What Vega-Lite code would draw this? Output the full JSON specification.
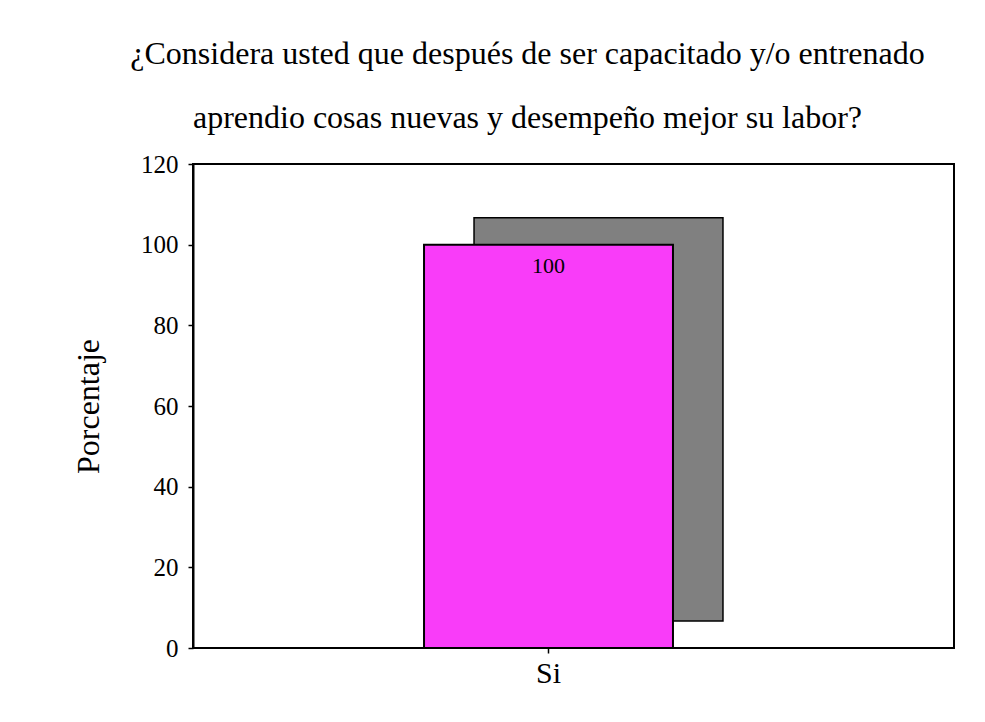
{
  "$schema": "https://vega.github.io/schema/vega-lite/v6.json",
  "width": 761,
  "height": 484,
  "padding": {"left": 72, "top": 38, "right": 30, "bottom": 5},
  "background": "white",
  "title": {
    "text": [
      "¿Considera usted que después de ser capacitado y/o entrenado",
      "aprendio cosas nuevas y desempeño mejor su labor?"
    ],
    "font": "Liberation Serif",
    "fontSize": 32,
    "fontWeight": "normal",
    "lineHeight": 64,
    "anchor": "middle",
    "dx": -46,
    "offset": 17,
    "color": "black"
  },
  "config": {
    "title": {"font": "Liberation Serif", "fontWeight": "normal"},
    "view": {"stroke": "black", "strokeWidth": 2},
    "axis": {
      "domainColor": "black",
      "domainWidth": 2,
      "tickColor": "black",
      "tickWidth": 1.5,
      "tickSize": 5,
      "labelColor": "black",
      "titleColor": "black",
      "labelFont": "Liberation Serif",
      "titleFont": "Liberation Serif",
      "titleFontWeight": "normal",
      "grid": false
    }
  },
  "data": {
    "values": [
      {"respuesta": "Si", "porcentaje": 100}
    ]
  },
  "encoding": {
    "x": {
      "field": "respuesta",
      "type": "nominal",
      "scale": {"range": [0, 711], "paddingInner": 0, "paddingOuter": 0.928},
      "axis": {"title": null, "domain": false, "labelAngle": 0, "labelFontSize": 30, "labelPadding": 5}
    },
    "y": {
      "field": "porcentaje",
      "type": "quantitative",
      "scale": {"domain": [0, 120], "nice": false},
      "axis": {
        "title": "Porcentaje",
        "values": [0, 20, 40, 60, 80, 100, 120],
        "labelFontSize": 25,
        "labelPadding": 10,
        "titleFontSize": 32,
        "titlePadding": 35
      }
    }
  },
  "layer": [
    {
      "mark": {
        "type": "bar",
        "color": "#808080",
        "stroke": "black",
        "strokeWidth": 1.5,
        "xOffset": 50,
        "x2Offset": 50,
        "yOffset": -27,
        "y2Offset": -27
      },
      "encoding": {"y2": {"datum": 0}}
    },
    {
      "mark": {"type": "bar", "color": "#f93cf9", "stroke": "black", "strokeWidth": 2},
      "encoding": {"y2": {"datum": 0}}
    },
    {
      "mark": {
        "type": "text",
        "baseline": "top",
        "dy": 11,
        "font": "Liberation Serif",
        "fontSize": 22,
        "color": "black"
      },
      "encoding": {"text": {"field": "porcentaje", "type": "quantitative"}}
    }
  ]
}
